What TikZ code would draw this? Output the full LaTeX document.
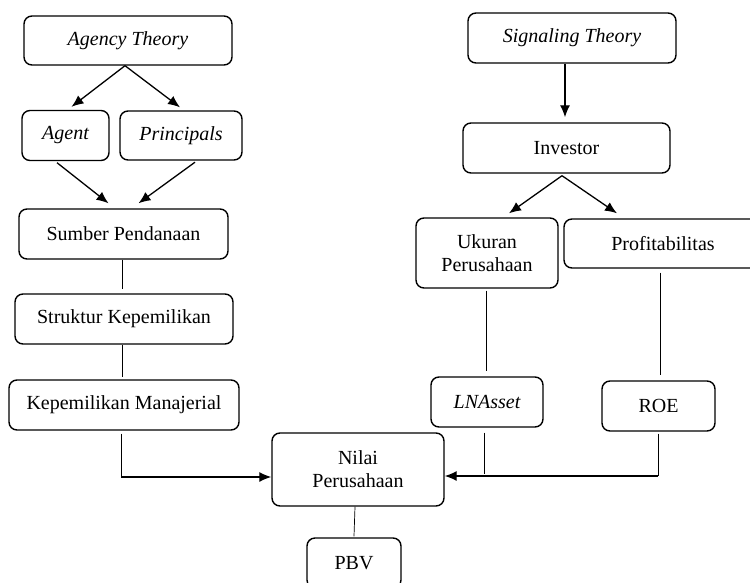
\documentclass[tikz,border=0pt]{standalone}
\usepackage{fontspec}
\setmainfont{Liberation Serif}
\usetikzlibrary{arrows.meta,calc}
\begin{document}
\begin{tikzpicture}[x=1pt,y=-1pt,
  box/.style={draw,rounded corners=8pt,line width=1.4pt,inner sep=0pt,align=center,
    font=\fontsize{20}{23}\selectfont},
  arr/.style={line width=1.3pt,-{Latex[length=12pt,width=10pt]}},
  thin/.style={line width=0.7pt}]
\useasboundingbox (0,0) rectangle (750,582);
\clip (0,0) rectangle (750,582);
% left column
\node[box,minimum width=208pt,minimum height=49pt] (agency) at (128,40.5) {\itshape Agency Theory};
\node[box,minimum width=87pt,minimum height=50pt] (agent) at (65.5,135.5) {\itshape Agent};
\node[box,minimum width=122pt,minimum height=49pt] (princ) at (181,135.5) {\itshape Principals};
\node[box,minimum width=209pt,minimum height=50pt] (sumber) at (123.5,234) {Sumber Pendanaan};
\node[box,minimum width=218pt,minimum height=50pt] (struktur) at (124,319) {Struktur Kepemilikan};
\node[box,minimum width=230pt,minimum height=50pt] (kepmgr) at (124,405) {Kepemilikan Manajerial};
% right column
\node[box,minimum width=208pt,minimum height=50pt] (signal) at (572,38) {\itshape Signaling Theory};
\node[box,minimum width=207pt,minimum height=50pt] (investor) at (566.5,148) {Investor};
\node[box,minimum width=142pt,minimum height=70pt] (ukuran) at (487,253) {Ukuran\\Perusahaan};
\node[box,minimum width=198pt,minimum height=49pt] (profit) at (663,243.5) {Profitabilitas};
\node[box,minimum width=112pt,minimum height=50pt] (lnasset) at (487,402) {\itshape LNAsset};
\node[box,minimum width=113pt,minimum height=50pt] (roe) at (658.5,406) {ROE};
% bottom
\node[box,minimum width=172pt,minimum height=73pt] (nilai) at (358,469.5) {Nilai\\Perusahaan};
\node[box,minimum width=94pt,minimum height=50pt] (pbv) at (354,563) {PBV};

% arrows left
\draw[arr] ([xshift=-3pt]agency.south) -- ([xshift=6pt,yshift=3pt]agent.north);
\draw[arr] ([xshift=-3pt]agency.south) -- ([xshift=-1pt,yshift=3pt]princ.north);
\draw[arr] ([xshift=-8.5pt,yshift=-1.5pt]agent.south) -- ([xshift=-15pt,yshift=5pt]sumber.north);
\draw[arr] ([xshift=14pt,yshift=-1.5pt]princ.south) -- ([xshift=15pt,yshift=5pt]sumber.north);
\draw[thin] ([xshift=-1.5pt]sumber.south) -- ([xshift=-2pt,yshift=4pt]struktur.north);
\draw[thin] ([xshift=-2pt]struktur.south) -- ([xshift=-2pt,yshift=2pt]kepmgr.north);
\coordinate (c1) at (121,477);
\draw[thin] ([xshift=-3pt,yshift=-3pt]kepmgr.south) -- (c1);
\draw[arr] (c1) -- ([yshift=-7.5pt]nilai.west);
% arrows right
\draw[arr] ([xshift=-7pt]signal.south) -- ([xshift=-1.5pt,yshift=5pt]investor.north);
\draw[arr] ([xshift=-4.5pt,yshift=-2pt]investor.south) -- ([xshift=22pt,yshift=4pt]ukuran.north);
\draw[arr] ([xshift=-4.5pt,yshift=-2pt]investor.south) -- ([xshift=-46pt,yshift=5pt]profit.north);
\draw[thin] ([xshift=-1pt,yshift=-2pt]ukuran.south) -- ([xshift=-1pt,yshift=5pt]lnasset.north);
\draw[thin] ([xshift=-3pt,yshift=-4pt]profit.south) -- ([xshift=1.5pt,yshift=5pt]roe.north);
\coordinate (c2) at (484,474);
\draw[thin] ([xshift=-3pt,yshift=-5pt]lnasset.south) -- (c2);
\coordinate (c3) at (658,476);
\draw[thin] ([xshift=-0.5pt,yshift=-2pt]roe.south) -- (c3);
\draw[arr] (c3) -- ([yshift=-6.5pt]nilai.east);
\draw[thin] ([xshift=-3pt]nilai.south) -- ([yshift=1pt]pbv.north);
\end{tikzpicture}
\end{document}
